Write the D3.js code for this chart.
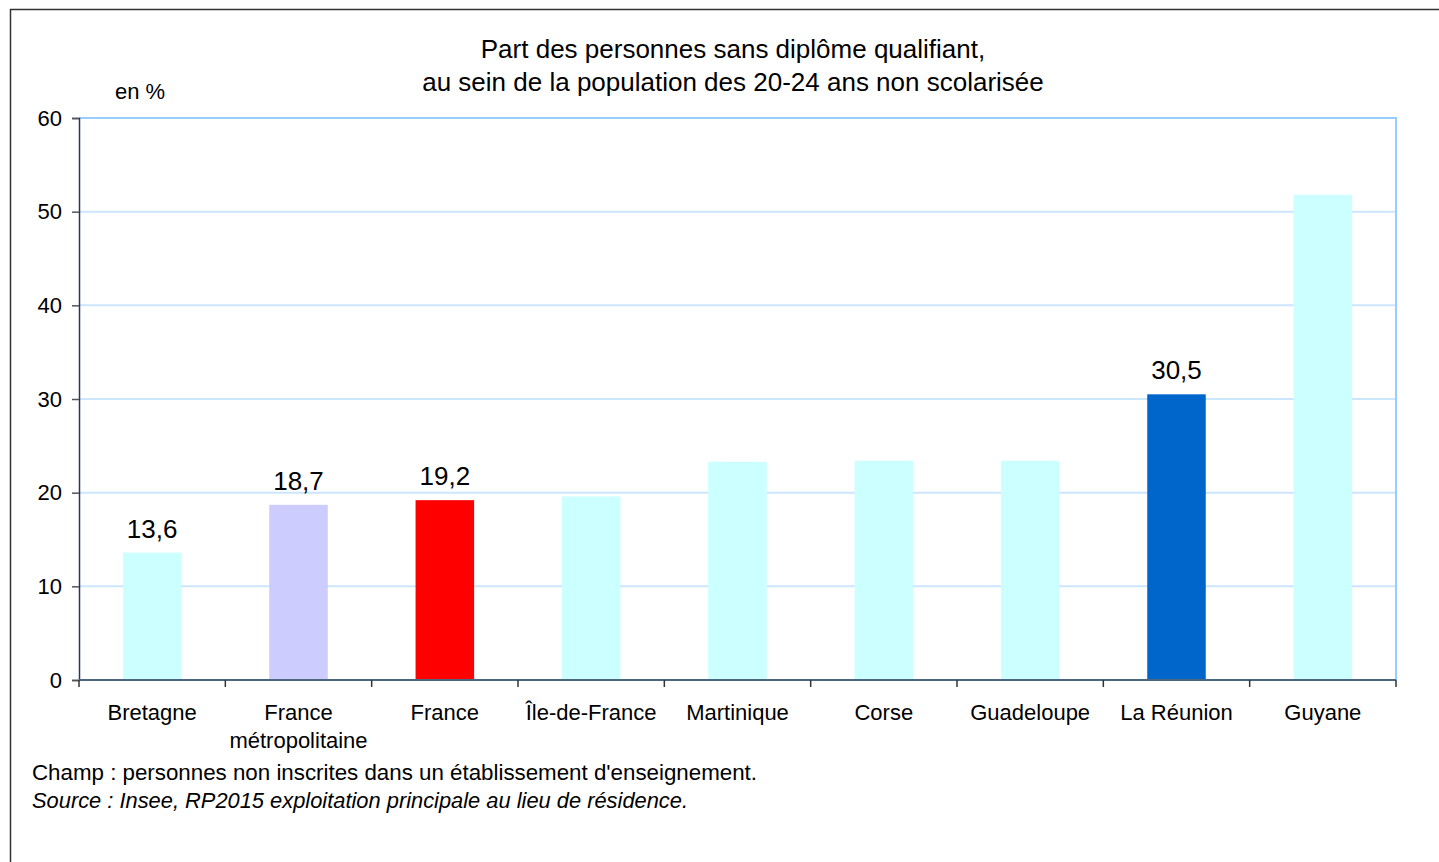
<!DOCTYPE html>
<html>
<head>
<meta charset="utf-8">
<script src="https://cdn.jsdelivr.net/npm/d3@7"></script>
<style>
  body { margin: 0; background: #fff; }
  text { font-family: "Liberation Sans", Arial, sans-serif; fill: #000; }
</style>
</head>
<body>
<svg width="1439" height="862"></svg>
<script>
// data
var categories = ["Bretagne", "France\nmétropolitaine", "France", "Île-de-France",
                  "Martinique", "Corse", "Guadeloupe", "La Réunion", "Guyane"];
var values = [13.6, 18.7, 19.2, 19.6, 23.3, 23.4, 23.4, 30.5, 51.8];
var labels = ["13,6", "18,7", "19,2", "", "", "", "", "30,5", ""];
var colors = ["#ccffff", "#ccccff", "#ff0000", "#ccffff", "#ccffff",
              "#ccffff", "#ccffff", "#0066cc", "#ccffff"];
var yTicks = [0, 10, 20, 30, 40, 50, 60];

var svg = d3.select("svg");

// outer frame
svg.append("rect")
    .attr("x", 10.5).attr("y", 9.5)
    .attr("width", 1440).attr("height", 870)
    .attr("fill", "none")
    .attr("stroke", "#333")
    .attr("stroke-width", 1.5);

var margin = {top: 118, left: 79, right: 1396, bottom: 680};

var x = d3.scaleBand()
    .domain(d3.range(categories.length))
    .range([margin.left, margin.right])
    .paddingInner(0.6)
    .paddingOuter(0.3);

var y = d3.scaleLinear()
    .domain([0, 60])
    .range([margin.bottom, margin.top]);

var g = svg.append("g");

// gridlines
g.selectAll("line.grid")
    .data(yTicks.filter(function(d) { return d > 0 && d < 60; }))
    .enter().append("line")
    .attr("class", "grid")
    .attr("x1", margin.left).attr("x2", margin.right)
    .attr("y1", function(d) { return y(d); })
    .attr("y2", function(d) { return y(d); })
    .attr("stroke", "#cce6ff")
    .attr("stroke-width", 2);

// plot frame top + right
g.append("path")
    .attr("d", "M" + margin.left + "," + y(60) + "H" + margin.right + "V" + margin.bottom)
    .attr("fill", "none")
    .attr("stroke", "#99ccff")
    .attr("stroke-width", 2);

// bars
g.selectAll("rect.bar")
    .data(values)
    .enter().append("rect")
    .attr("class", "bar")
    .attr("x", function(d, i) { return x(i); })
    .attr("width", x.bandwidth())
    .attr("y", function(d) { return y(d); })
    .attr("height", function(d) { return y(0) - y(d); })
    .attr("fill", function(d, i) { return colors[i]; });

// value labels
g.selectAll("text.val")
    .data(values)
    .enter().append("text")
    .attr("class", "val")
    .attr("x", function(d, i) { return x(i) + x.bandwidth() / 2; })
    .attr("y", function(d) { return y(d) - 15; })
    .attr("text-anchor", "middle")
    .style("font-size", "26px")
    .text(function(d, i) { return labels[i]; });

// y axis
var yAxis = d3.axisLeft(y).tickValues(yTicks).tickSize(7).tickPadding(10);
var ya = g.append("g")
    .attr("transform", "translate(" + margin.left + ",0)")
    .call(yAxis);
ya.select(".domain").attr("stroke", "#1f3a60").attr("stroke-width", 1.5);
ya.selectAll(".tick line").attr("stroke", "#555").attr("stroke-width", 1.5);
ya.selectAll(".tick text").style("font-size", "22px").attr("font-family", null);

// x axis: ticks at category boundaries
var bounds = d3.range(categories.length + 1).map(function(i) {
    return margin.left + i * (margin.right - margin.left) / categories.length;
});
g.append("line")
    .attr("x1", margin.left).attr("x2", margin.right)
    .attr("y1", y(0)).attr("y2", y(0))
    .attr("stroke", "#4d6680")
    .attr("stroke-width", 2);
g.selectAll("line.xt")
    .data(bounds)
    .enter().append("line")
    .attr("class", "xt")
    .attr("x1", function(d) { return d; }).attr("x2", function(d) { return d; })
    .attr("y1", y(0)).attr("y2", y(0) + 7)
    .attr("stroke", "#333")
    .attr("stroke-width", 1.5);

var xl = g.selectAll("text.cat")
    .data(categories)
    .enter().append("text")
    .attr("class", "cat")
    .attr("text-anchor", "middle")
    .attr("x", function(d, i) { return x(i) + x.bandwidth() / 2; })
    .attr("y", 720)
    .style("font-size", "22px");
xl.each(function(d) {
    var t = d3.select(this);
    d.split("\n").forEach(function(line, k) {
        t.append("tspan")
            .attr("x", t.attr("x"))
            .attr("dy", k === 0 ? 0 : 28)
            .text(line);
    });
});

// title
svg.append("text")
    .attr("x", 733).attr("y", 58)
    .attr("text-anchor", "middle")
    .style("font-size", "26px")
    .text("Part des personnes sans diplôme qualifiant,");
svg.append("text")
    .attr("x", 733).attr("y", 91)
    .attr("text-anchor", "middle")
    .style("font-size", "26px")
    .text("au sein de la population des 20-24 ans non scolarisée");

svg.append("text")
    .attr("x", 115).attr("y", 99)
    .style("font-size", "22px")
    .text("en %");

// notes
svg.append("text")
    .attr("x", 32).attr("y", 780)
    .attr("textLength", 725)
    .attr("lengthAdjust", "spacingAndGlyphs")
    .style("font-size", "22px")
    .text("Champ : personnes non inscrites dans un établissement d'enseignement.");
svg.append("text")
    .attr("x", 32).attr("y", 808)
    .attr("textLength", 656)
    .attr("lengthAdjust", "spacingAndGlyphs")
    .style("font-size", "22px")
    .style("font-style", "italic")
    .text("Source : Insee, RP2015 exploitation principale au lieu de résidence.");
</script>
</body>
</html>
